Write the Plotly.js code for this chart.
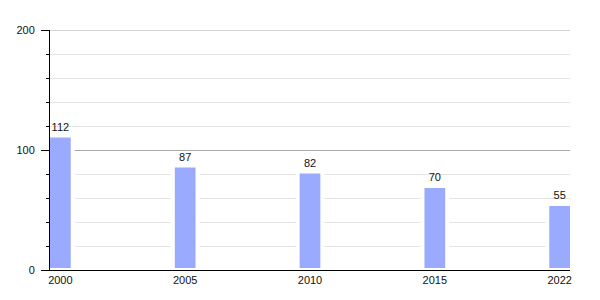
<!DOCTYPE html>
<html>
<head>
<meta charset="utf-8">
<script src="https://cdn.plot.ly/plotly-3.0.1.min.js"></script>
<style>html,body{margin:0;padding:0;background:#fff;}#chart{width:600px;height:300px;}</style>
</head>
<body>
<div id="chart"></div>
<script>
const years = ['2000', '2005', '2010', '2015', '2022'];
const values = [112, 87, 82, 70, 55];
const valueLabels = ['112', '87', '82', '70', '55'];
const yTickVals = [0, 100, 200];
const yTickText = ['0', '100', '200'];

const font = {family: 'Liberation Sans, Arial, sans-serif', size: 11, color: '#111'};
const yMax = yTickVals[yTickVals.length - 1];

Plotly.newPlot('chart', [{
  type: 'bar',
  x: years,
  y: values,
  text: valueLabels,
  textposition: 'outside',
  textfont: font,
  cliponaxis: false,
  width: 0.198,
  marker: {color: '#9aabff', line: {color: '#ffffff', width: 4}},
  hoverinfo: 'none'
}], {
  width: 600, height: 300,
  margin: {l: 50, r: 30, t: 30, b: 30, pad: 0},
  paper_bgcolor: '#fff', plot_bgcolor: '#fff',
  showlegend: false,
  font: font,
  shapes: [{type: 'line', xref: 'paper', yref: 'y', x0: 0, x1: 1, y0: yMax, y1: yMax,
            line: {color: '#a8a8a8', width: 1}, layer: 'below'}],
  xaxis: {
    type: 'category',
    range: [-0.083, 4.083],
    showgrid: false,
    showline: true, linecolor: '#000', linewidth: 1,
    ticks: '', tickfont: font,
    zeroline: false, fixedrange: true
  },
  yaxis: {
    range: [0, yMax],
    tickvals: yTickVals, ticktext: yTickText,
    ticks: 'outside', ticklen: 8, tickcolor: '#000', tickwidth: 1,
    showline: true, linecolor: '#000', linewidth: 1,
    showgrid: true, gridcolor: '#a8a8a8', gridwidth: 1,
    zeroline: false, tickfont: font, ticklabelstandoff: 4,
    minor: {dtick: 20, ticks: 'outside', ticklen: 3, tickcolor: '#000', showgrid: true, gridcolor: '#e4e4e4', gridwidth: 1},
    fixedrange: true
  }
}, {staticPlot: true});
</script>
</body>
</html>
